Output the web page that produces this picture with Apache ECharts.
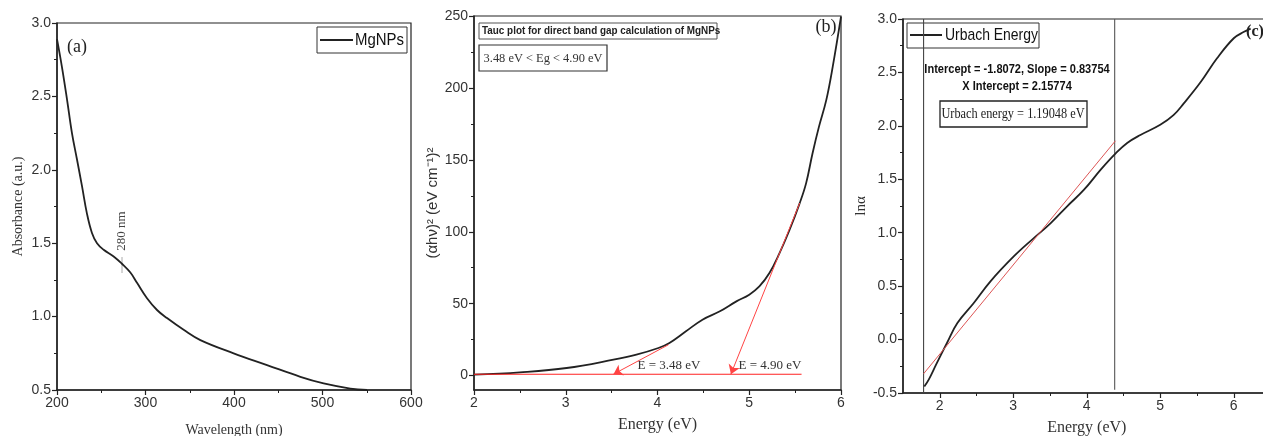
<!DOCTYPE html>
<html><head><meta charset="utf-8">
<script src="https://cdn.jsdelivr.net/npm/echarts@6/dist/echarts.min.js"></script>
<style>html,body{margin:0;padding:0;background:#fff}#c{width:1263px;height:436px}</style>
</head><body><div id="c"></div>
<script>
// ---- Panel (a): UV-Vis absorbance ----
const wavelength = [200,205.6,211.3,216.9,222.6,228.2,233.9,239.5,245.2,252.7,264,273.4,282.9,290.4,301.7,313,324.3,343.1,362,399.6,437.3,475,501.3,531.5,550.3];
const absorbance = [2.89,2.70,2.48,2.25,2.07,1.89,1.70,1.57,1.50,1.455,1.41,1.36,1.30,1.23,1.125,1.045,0.99,0.91,0.84,0.75,0.67,0.59,0.545,0.51,0.50];

// ---- Panel (b): Tauc plot ----
const energyB = [2.0,2.5,3.01,3.52,3.77,4.01,4.13,4.31,4.49,4.68,4.86,5.0,5.11,5.22,5.33,5.44,5.55,5.62,5.69,5.76,5.84,5.91,6.0];
const taucY = [0.7,2.3,5.3,11.1,14.6,19.2,22.7,30.8,38.9,44.7,51.6,56.3,62.0,71.3,85.2,101.4,119.9,133.8,154.6,173.1,191.7,214.8,249.5];
const baselineB = [[2.0,1],[5.57,1]];
const tangent1 = [[4.12,21.5],[3.52,1]];
const tangent2 = [[5.55,120],[4.80,1]];
const yTicksB = [0,50,100,150,200,250];
const yMinorB = [25,75,125,175,225];

// ---- Panel (c): Urbach energy ----
const energyC = [1.79,1.85,1.96,2.10,2.24,2.46,2.69,3.01,3.28,3.51,3.73,3.96,4.19,4.39,4.55,4.73,5.00,5.18,5.32,5.55,5.77,6.00,6.14,6.23];
const lnAlpha = [-0.44,-0.375,-0.22,-0.03,0.155,0.34,0.545,0.78,0.95,1.09,1.245,1.40,1.59,1.74,1.84,1.915,2.01,2.10,2.21,2.41,2.63,2.82,2.88,2.91];
const fitC = [[1.78,-0.32],[4.39,1.86]];
const vLinesC = [1.78, 4.38];
const xTicksC = [2,3,4,5,6];
const xMinorC = [2.5,3.5,4.5,5.5];

const SANS = "'Liberation Sans',Arial,sans-serif";
const SERIF = "'Liberation Serif','Times New Roman',serif";
const INK = '#222';

function ax(o){
  return Object.assign({
    type:'value',
    axisLine:{show:true,onZero:false,lineStyle:{color:INK,width:1.5}},
    axisTick:{show:true,inside:false,length:5,lineStyle:{color:INK,width:1.2}},
    minorTick:{show:true,splitNumber:2,length:3,lineStyle:{color:INK,width:1}},
    splitLine:{show:false},
    minorSplitLine:{show:false},
    axisLabel:{color:'#333',fontFamily:SANS,fontSize:14,margin:6},
    nameLocation:'middle'
  }, o);
}
const zip = (xs, ys) => xs.map((x,i)=>[x,ys[i]]);

const chart = echarts.init(document.getElementById('c'), null, {renderer:'canvas'});
chart.setOption({
  animation:false,
  backgroundColor:'#fff',
  grid:[
    {left:57, top:23, width:354, height:367, outerBoundsMode:'none', containLabel:false, show:true, borderColor:INK, borderWidth:1.2, backgroundColor:'transparent'},
    {left:474, top:16, width:367, height:374, outerBoundsMode:'none', containLabel:false, show:true, borderColor:INK, borderWidth:1.2, backgroundColor:'transparent'},
    {left:903, top:19, width:367.5, height:374, outerBoundsMode:'none', containLabel:false, show:true, borderColor:INK, borderWidth:1.2, backgroundColor:'transparent'}
  ],
  xAxis:[
    ax({gridIndex:0, min:200, max:600, interval:100,
        name:'Wavelength (nm)', nameGap:33, nameTextStyle:{fontFamily:SERIF,fontSize:14,color:'#333'}}),
    ax({gridIndex:1, min:2, max:6, interval:1,
        name:'Energy (eV)', nameGap:27, nameTextStyle:{fontFamily:SERIF,fontSize:16,color:'#333'}}),
    ax({gridIndex:2, min:1.5, max:6.5, position:'bottom',
        minorTick:{show:false},
        axisTick:{show:true,length:5,customValues:xTicksC,lineStyle:{color:INK,width:1.2}},
        axisLabel:{color:'#333',fontFamily:SANS,fontSize:14,margin:6,customValues:xTicksC},
        name:'Energy (eV)', nameGap:27, nameTextStyle:{fontFamily:SERIF,fontSize:16,color:'#333'}}),
    ax({gridIndex:2, min:1.5, max:6.5, position:'bottom',
        axisLine:{show:false,onZero:false}, minorTick:{show:false},
        axisTick:{show:true,length:3,customValues:xMinorC,lineStyle:{color:INK,width:1}},
        axisLabel:{show:false,customValues:xMinorC}})
  ],
  yAxis:[
    ax({gridIndex:0, min:0.5, max:3.0, interval:0.5,
        axisLabel:{color:'#333',fontFamily:SANS,fontSize:14,margin:6,formatter:v=>v.toFixed(1)},
        name:'Absorbance (a.u.)', nameGap:32, nameTextStyle:{fontFamily:SERIF,fontSize:14,color:'#333'}}),
    ax({gridIndex:1, min:-10, max:250, position:'left',
        minorTick:{show:false},
        axisTick:{show:true,length:5,customValues:yTicksB,lineStyle:{color:INK,width:1.2}},
        axisLabel:{color:'#333',fontFamily:SANS,fontSize:14,margin:6,customValues:yTicksB},
        name:'(\u03b1h\u03bd)\u00b2 (eV cm\u207b\u00b9)\u00b2', nameGap:33, nameTextStyle:{fontFamily:SANS,fontSize:15,color:'#333'}}),
    ax({gridIndex:2, min:-0.5, max:3.0, interval:0.5,
        axisLabel:{color:'#333',fontFamily:SANS,fontSize:14,margin:6,formatter:v=>v.toFixed(1)},
        name:'ln\u03b1', nameGap:34, nameTextStyle:{fontFamily:SERIF,fontSize:15,color:'#333'}}),
    ax({gridIndex:1, min:-10, max:250, position:'left',
        axisLine:{show:false,onZero:false}, minorTick:{show:false},
        axisTick:{show:true,length:3,customValues:yMinorB,lineStyle:{color:INK,width:1}},
        axisLabel:{show:false,customValues:yMinorB}})
  ],
  series:[
    {type:'line', xAxisIndex:0, yAxisIndex:0, data:zip(wavelength,absorbance), smooth:0.4, showSymbol:false,
     lineStyle:{color:INK,width:1.8}},
    {type:'line', xAxisIndex:1, yAxisIndex:1, data:zip(energyB,taucY), smooth:0.4, showSymbol:false,
     lineStyle:{color:INK,width:1.8}},
    {type:'line', xAxisIndex:1, yAxisIndex:1, data:baselineB, showSymbol:false, z:3,
     lineStyle:{color:'#f22',width:1.1},
     markLine:{silent:true, symbol:['none','arrow'], symbolSize:9, label:{show:false},
       lineStyle:{color:'#f44',width:1,type:'solid'},
       data:[[{coord:tangent1[0]},{coord:tangent1[1]}],[{coord:tangent2[0]},{coord:tangent2[1]}]]}},
    {type:'line', xAxisIndex:2, yAxisIndex:2, data:[[vLinesC[0],-0.5],[vLinesC[0],3.0]], showSymbol:false,
     lineStyle:{color:'#444',width:1.1}},
    {type:'line', xAxisIndex:2, yAxisIndex:2, data:[[vLinesC[1],-0.47],[vLinesC[1],3.0]], showSymbol:false,
     lineStyle:{color:'#555',width:1.1}},
    {type:'line', xAxisIndex:2, yAxisIndex:2, data:zip(energyC,lnAlpha), smooth:0.4, showSymbol:false,
     lineStyle:{color:INK,width:1.8}},
    {type:'line', xAxisIndex:2, yAxisIndex:2, data:fitC, showSymbol:false, z:3,
     lineStyle:{color:'#d55',width:1}}
  ],
  graphic:[
    // panel (a)
    {type:'text', left:67, top:38, style:{text:'(a)', font:'18px '+SERIF, fill:'#222'}},
    {type:'text', x:122, y:231, rotation:Math.PI/2, style:{text:'280 nm', font:'13px '+SERIF, fill:'#444', align:'center', verticalAlign:'middle'}},
    {type:'line', shape:{x1:122,y1:257,x2:122,y2:273}, style:{stroke:'#aaa',lineWidth:1}},
    {type:'rect', shape:{x:317,y:27,width:90,height:26}, style:{fill:'#fff',stroke:'#333',lineWidth:1}},
    {type:'line', shape:{x1:320,y1:40,x2:353,y2:40}, style:{stroke:INK,lineWidth:2}},
    {type:'text', x:355, y:40, scaleX:0.88, style:{text:'MgNPs', font:'17px '+SANS, fill:'#111', verticalAlign:'middle'}},
    // panel (b)
    {type:'rect', shape:{x:479,y:23,width:238,height:16}, style:{fill:'#fff',stroke:'#555',lineWidth:1}},
    {type:'text', x:482, y:31, scaleX:0.86, style:{text:'Tauc plot for direct band gap calculation of MgNPs', font:'bold 11.5px '+SANS, fill:'#222', verticalAlign:'middle'}},
    {type:'rect', shape:{x:479,y:45,width:128,height:26}, style:{fill:'#fff',stroke:'#333',lineWidth:1.2}},
    {type:'text', x:543, y:58, scaleX:0.92, style:{text:'3.48 eV < Eg < 4.90 eV', font:'13.5px '+SERIF, fill:'#333', align:'center', verticalAlign:'middle'}},
    {type:'text', x:826, y:27, style:{text:'(b)', font:'18px '+SERIF, fill:'#222', align:'center', verticalAlign:'middle'}},
    {type:'text', x:669, y:366, style:{text:'E = 3.48 eV', font:'13px '+SERIF, fill:'#333', align:'center', verticalAlign:'middle'}},
    {type:'text', x:770, y:366, style:{text:'E = 4.90 eV', font:'13px '+SERIF, fill:'#333', align:'center', verticalAlign:'middle'}},
    // panel (c)
    {type:'rect', shape:{x:907,y:23,width:132,height:25}, style:{fill:'#fff',stroke:'#333',lineWidth:1}},
    {type:'line', shape:{x1:910,y1:35,x2:942,y2:35}, style:{stroke:INK,lineWidth:2}},
    {type:'text', x:945, y:35, scaleX:0.82, style:{text:'Urbach Energy', font:'17px '+SANS, fill:'#111', verticalAlign:'middle'}},
    {type:'text', x:1017, y:70, scaleX:0.92, style:{text:'Intercept = -1.8072, Slope = 0.83754', font:'bold 12px '+SANS, fill:'#111', align:'center', verticalAlign:'middle'}},
    {type:'text', x:1017, y:87, scaleX:0.92, style:{text:'X Intercept = 2.15774', font:'bold 12px '+SANS, fill:'#111', align:'center', verticalAlign:'middle'}},
    {type:'rect', shape:{x:940,y:101,width:147,height:26}, style:{fill:'#fff',stroke:'#222',lineWidth:1.3}},
    {type:'text', x:1013, y:114, scaleX:0.88, style:{text:'Urbach energy = 1.19048 eV', font:'14px '+SERIF, fill:'#222', align:'center', verticalAlign:'middle'}},
    {type:'text', x:1255, y:32, style:{text:'(c)', font:'bold 16px '+SERIF, fill:'#222', align:'center', verticalAlign:'middle'}}
  ]
});
</script>
</body></html>
